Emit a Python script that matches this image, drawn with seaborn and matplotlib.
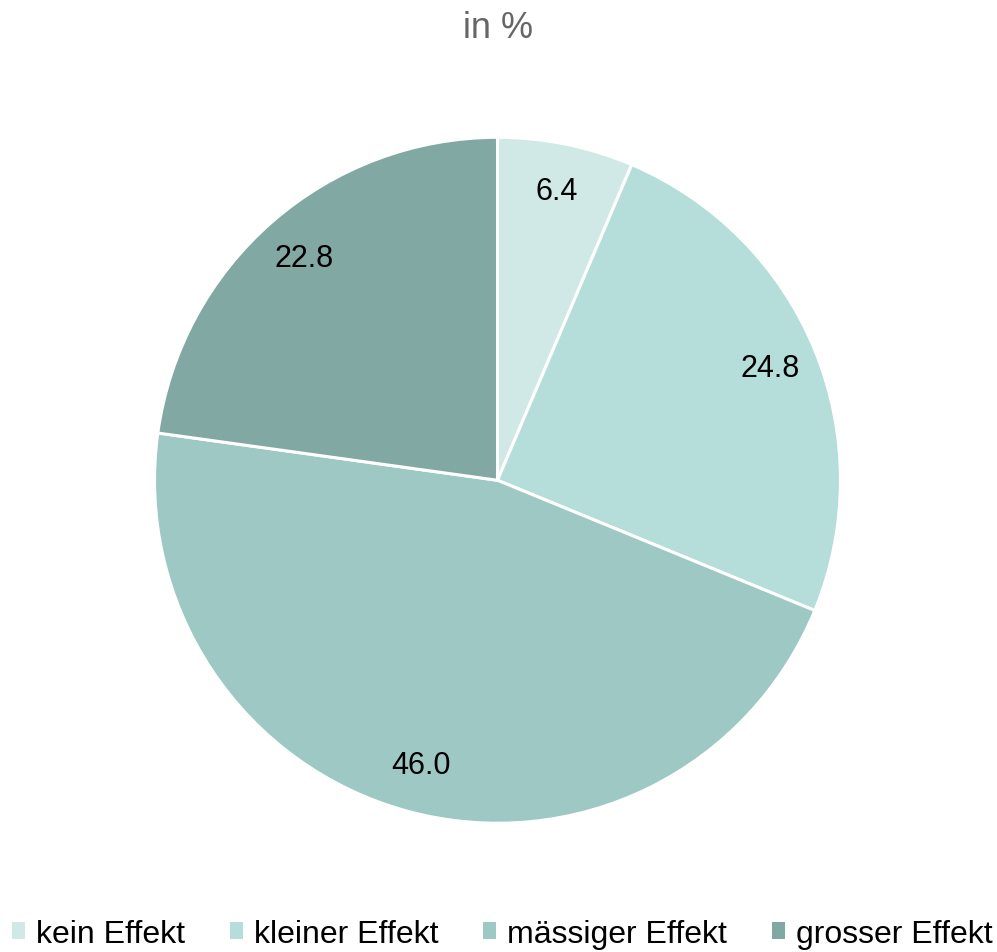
import matplotlib
matplotlib.use('Agg')
import matplotlib.pyplot as plt
from matplotlib.patches import Patch
import seaborn as sns

categories = ['kein Effekt', 'kleiner Effekt', 'mässiger Effekt', 'grosser Effekt']
values = [6.4, 24.8, 46.0, 22.8]
colors = ['#D1E9E6', '#B5DDD9', '#9DC8C3', '#82A8A4']

sns.set_style('white')
plt.rcParams['font.family'] = ['Liberation Sans', 'DejaVu Sans']

fig = plt.figure(figsize=(9.97, 9.53), dpi=100)
ax = fig.add_axes([0.155, 0.135, 0.688, 0.72])

wedges, texts, autotexts = ax.pie(
    values, colors=colors, startangle=90, counterclock=False,
    autopct='%.1f', pctdistance=0.86, radius=1,
    wedgeprops=dict(edgecolor='white', linewidth=2.2),
    textprops=dict(fontsize=22, color='black'))
ax.set_xlim(-1, 1)
ax.set_ylim(-1, 1)
ax.set_aspect('equal')

fig.text(0.499, 0.97, 'in %', ha='center', va='center', fontsize=26, color='#666666')

handles = [Patch(facecolor=c, edgecolor='none') for c in colors]
leg = fig.legend(handles, categories, loc='center', bbox_to_anchor=(0.504, 0.019), ncol=4,
                 frameon=False, fontsize=23, handlelength=0.4, handleheight=0.4,
                 handletextpad=0.35, columnspacing=1.4, borderpad=0)
for t in leg.get_texts():
    t.set_color('black')

fig.savefig('out.png', dpi=100)
